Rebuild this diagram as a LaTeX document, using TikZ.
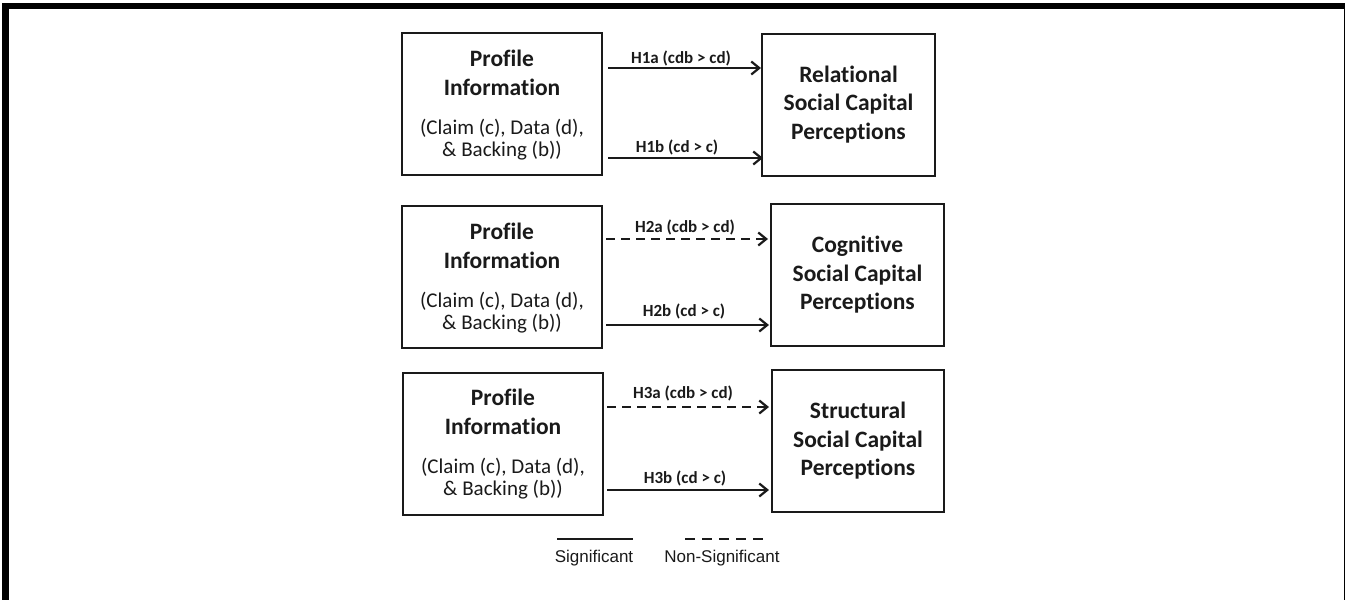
\documentclass[tikz,border=0pt]{standalone}
\usepackage{fontspec}
\setmainfont[Ligatures={NoCommon}]{Carlito}
\newfontfamily\arialf{Liberation Sans}
\usetikzlibrary{arrows.meta}
\definecolor{ink}{HTML}{1A1A1A}
\tikzset{
 lbox/.style={draw=ink, line width=2pt, minimum width=200pt, minimum height=142pt, inner sep=0pt},
 rbox/.style={draw=ink, line width=2pt, minimum width=173pt, minimum height=142pt, inner sep=0pt, align=center, font=\fontsize{23.5}{28.5}\selectfont\bfseries, text=ink},
 ttl/.style={anchor=base, inner sep=0pt, font=\fontsize{23.5}{27}\selectfont\bfseries, text=ink},
 subt/.style={anchor=base, inner sep=0pt, font=\fontsize{21}{22}\selectfont, text=ink},
 hyp/.style={anchor=base, inner sep=0pt, font=\fontsize{17}{18}\selectfont\bfseries, text=ink},
 sig/.style={draw=ink, line width=2.2pt, -{Straight Barb[length=8pt,width=13pt,line width=2.2pt]}},
 nsig/.style={sig, dash pattern=on 9pt off 6pt},
 leg/.style={anchor=base, inner sep=0pt, font=\arialf\fontsize{17}{20}\selectfont, text=ink},
}
\begin{document}
\begin{tikzpicture}[x=1pt,y=-1pt]
\clip (0,0) rectangle (1345,600);
\fill[white] (0,0) rectangle (1345,600);
\draw[line width=6.5pt, black] (5.5,6) rectangle (1347,640);

% left boxes
\node[lbox] (L1) at (502,104) {};
\node[lbox] (L2) at (502,277) {};
\node[lbox] (L3) at (503,443.5) {};
\foreach \b in {L1,L2,L3}{
  \node[ttl] (\b t1) at ([yshift=-34pt]\b.north) {Profile};
  \node[ttl] (\b t2) at ([yshift=-63pt]\b.north) {Information};
  \node[subt] (\b s1) at ([yshift=-102pt]\b.north) {(Claim (c), Data (d),};
  \node[subt] (\b s2) at ([yshift=-124pt]\b.north) {\& Backing (b))};
}

% right boxes
\node[rbox] (R1) at (848.5,104.5) {Relational\\Social Capital\\Perceptions};
\node[rbox] (R2) at (857.5,275) {Cognitive\\Social Capital\\Perceptions};
\node[rbox, minimum width=172pt] (R3) at (858,441) {Structural\\Social Capital\\Perceptions};

% arrows
\draw[sig]  (L1.east |- 0,68)  [shorten <=5pt] -- (R1.west |- 0,68);
\draw[sig]  (L1.east |- 0,158) [shorten <=5pt, shorten >=-2pt] -- (R1.west |- 0,158);
\draw[nsig] (L2.east |- 0,239) [shorten <=3pt, shorten >=2pt] -- (R2.west |- 0,239);
\draw[sig]  (L2.east |- 0,325) [shorten <=3pt, shorten >=1pt] -- (R2.west |- 0,325);
\draw[nsig] (L3.east |- 0,407) [shorten <=3pt, shorten >=2pt] -- (R3.west |- 0,407);
\draw[sig]  (L3.east |- 0,490) [shorten <=3pt, shorten >=2pt] -- (R3.west |- 0,490);

% arrow labels
\node[hyp] (h1a) at (681,63)  {H1a (cdb > cd)};
\node[hyp] (h1b) at (677,152) {H1b (cd > c)};
\node[hyp] (h2a) at (685,232) {H2a (cdb > cd)};
\node[hyp] (h2b) at (684,316) {H2b (cd > c)};
\node[hyp] (h3a) at (683,398) {H3a (cdb > cd)};
\node[hyp] (h3b) at (685,483) {H3b (cd > c)};

% legend
\draw[ink, line width=2.5pt] (557,539) -- (633,539);
\draw[ink, line width=2.5pt, dash pattern=on 10pt off 7pt] (685,539) -- (763,539);
\node[leg] (lg1) at (594,562) {Significant};
\node[leg] (lg2) at (722,562) {Non-Significant};
\end{tikzpicture}
\end{document}
